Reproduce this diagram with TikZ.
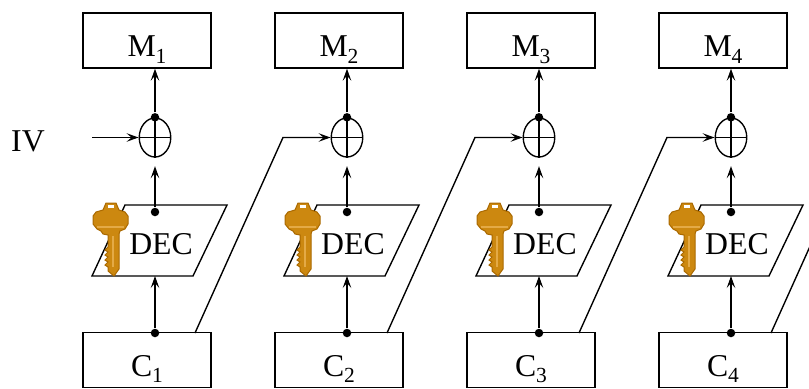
\documentclass[tikz,border=0pt]{standalone}
\usepackage{fontspec}
\setmainfont{Liberation Serif}
\usetikzlibrary{arrows.meta,shapes.geometric}

\definecolor{keyfill}{RGB}{204,136,16}
\definecolor{keyline}{RGB}{170,105,0}
\definecolor{keylight}{RGB}{228,170,70}

\newcommand{\idx}[1]{\raisebox{-2.6pt}{\fontsize{8.6}{10}\selectfont #1}}

\tikzset{
	box/.style={draw, minimum width=51.2pt, minimum height=22pt, inner sep=0pt, text height=13pt, text depth=0pt},
	xor/.style={draw, ellipse, minimum width=12.6pt, minimum height=15.6pt, inner sep=0pt},
	dot/.style={circle, fill, inner sep=0pt, minimum size=3.4pt},
	arr/.style={-{Stealth[length=4.8pt,width=3.4pt,inset=2pt]}},
	key/.pic={
		\draw[keyline, fill=keyfill, line width=0.4pt] (-5,0) -- (5,0) -- (8,7) -- (14,9) -- (17,13) -- (17,21) -- (14,26) -- (9,28) -- (8,31) -- (8,66) -- (3,73) -- (-3,68) -- (-3,64) -- (-6,62) -- (-3,59) -- (-6,57) -- (-3,54) -- (-6,52) -- (-3,49) -- (-6,47) -- (-3,44) -- (-3,32) -- (-8,31) -- (-10,28) -- (-14,26) -- (-18,21) -- (-18,13) -- (-15,9) -- (-8,7) -- cycle;
		\fill[white] (-3,2) rectangle (3,5);
		\draw[keylight, line width=0.5pt] (-14,24) -- (13,24) (2,33) -- (2,64);
	}
}

\begin{document}
\begin{tikzpicture}[x=0.4pt, y=-0.4pt, line width=0.55pt, every node/.style={font=\fontsize{12.7}{15}\selectfont}]
	\clip (0,0) rectangle (809,388);
	\fill[white] (0,0) rectangle (809,388);

	% Initial vector
	\node (IV) at (28,141) {IV};
	\coordinate (iv) at (92,137.5);

	% Columns
	\foreach \i [evaluate=\i as \x using {155+192*(\i-1)}] in {1,...,4} {
		\node[box] (M\i) at (\x-8,40.5) {M\idx{\i}};
		\node[box] (C\i) at (\x-8,360) {C\idx{\i}};
		\node[xor] (X\i) at (\x,137.5) {};
		\draw (X\i.north) -- (X\i.south) (X\i.west) -- (X\i.east);

		% Decryption block
		\draw (\x-63,276) -- (\x+38,276) -- (\x+72,205) -- (\x-30,205) -- cycle;
		\node (D\i) at (\x+6,244) {DEC};
		\pic at (\x-44,203) {key};

		% Data flow
		\node[dot] (a\i) at (X\i.north) {};
		\node[dot] (b\i) at (\x,212) {};
		\node[dot] (c\i) at (\x,333) {};
		\coordinate (E\i) at (\x,276);
		\coordinate (s\i) at (\x+40,333);
		\coordinate (k\i) at (\x+128,137.5);
		\draw[arr] (c\i) -- (E\i);
		\draw[arr, shorten >=3.4pt] (b\i) -- (X\i.south);
		\draw[arr] (a\i) -- (M\i.south -| a\i);
	}

	% Chaining
	\draw[arr] (iv) -- (X1.west);
	\draw[arr] (s1) -- (k1) -- (X2.west);
	\draw[arr] (s2) -- (k2) -- (X3.west);
	\draw[arr] (s3) -- (k3) -- (X4.west);
	\draw (s4) -- (k4);
\end{tikzpicture}
\end{document}
